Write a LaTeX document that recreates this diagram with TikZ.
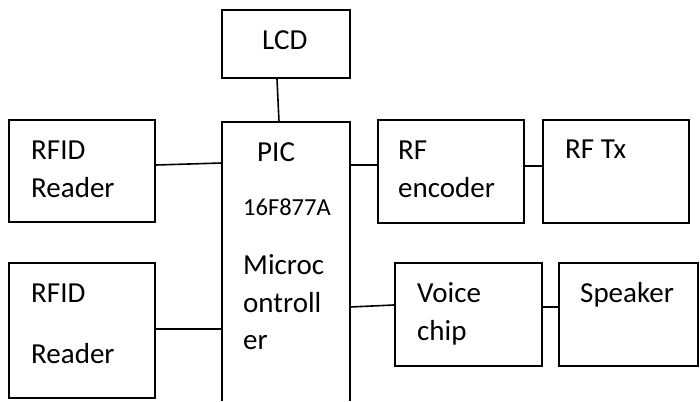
\documentclass[tikz,border=0pt]{standalone}
\usepackage{fontspec}
\setmainfont{Carlito}
\begin{document}
\begin{tikzpicture}[x=1pt,y=-1pt,
  blk/.style={draw=black,line width=2pt,rectangle,inner sep=0pt},
  lbl/.style={anchor=base west,inner sep=0pt,font=\fontsize{29}{35}\selectfont},
  small/.style={anchor=base west,inner sep=0pt,font=\fontsize{24.5}{29}\selectfont},
  wire/.style={draw=black,line width=1.6pt}]
\useasboundingbox[fill=white] (0,0) rectangle (700,401);
% boxes
\node[blk,minimum width=128pt,minimum height=68pt] (lcd) at (286,44) {};
\node[inner sep=0pt,minimum width=128pt,minimum height=279pt] (pic) at (286,261.5) {};
\draw[line width=2pt] (pic.south west) -- (pic.north west) -- (pic.north east) -- (pic.south east);
\node[blk,minimum width=146pt,minimum height=102pt] (rfid1) at (82,171) {};
\node[blk,minimum width=146pt,minimum height=135pt] (rfid2) at (82,330.5) {};
\node[blk,minimum width=146pt,minimum height=103pt] (enc) at (451,171.5) {};
\node[blk,minimum width=146pt,minimum height=103pt] (tx) at (616,171.5) {};
\node[blk,minimum width=147pt,minimum height=103pt] (voice) at (468.5,314.5) {};
\node[blk,minimum width=139pt,minimum height=103pt] (spk) at (628.5,314.5) {};
% labels
\node[lbl] (tlcd) at (262,50) {LCD};
\node[lbl] (tr1a) at (31,159) {RFID};
\node[lbl] (tr1b) at (31,197) {Reader};
\node[lbl] (tr2a) at (31,302) {RFID};
\node[lbl] (tr2b) at (31,363) {Reader};
\node[lbl] (tpic) at (257,161) {PIC};
\node[small] (tnum) at (243,215) {16F877A};
\node[lbl] (tm1) at (243,274) {Microc};
\node[lbl] (tm2) at (243,312) {ontroll};
\node[lbl] (tm3) at (243,349) {er};
\node[lbl] (te1) at (398,159) {RF};
\node[lbl] (te2) at (398,197) {encoder};
\node[lbl] (ttx) at (565,158) {RF Tx};
\node[lbl] (tv1) at (417,302) {Voice};
\node[lbl] (tv2) at (417,340) {chip};
\node[lbl] (tspk) at (580,302) {Speaker};
% connectors
\draw[wire] (lcd.south -| 277,0) -- (pic.north -| 279,0);
\draw[wire] (rfid1.east |- 0,165) -- (pic.west |- 0,163);
\draw[wire] (rfid2.east |- 0,329) -- (pic.west |- 0,329);
\draw[wire] (pic.east |- 0,165) -- (enc.west |- 0,165);
\draw[wire] (enc.east |- 0,166) -- (tx.west |- 0,166);
\draw[wire] (pic.east |- 0,307) -- (voice.west |- 0,305);
\draw[wire] (voice.east |- 0,307) -- (spk.west |- 0,307);
\end{tikzpicture}
\end{document}
